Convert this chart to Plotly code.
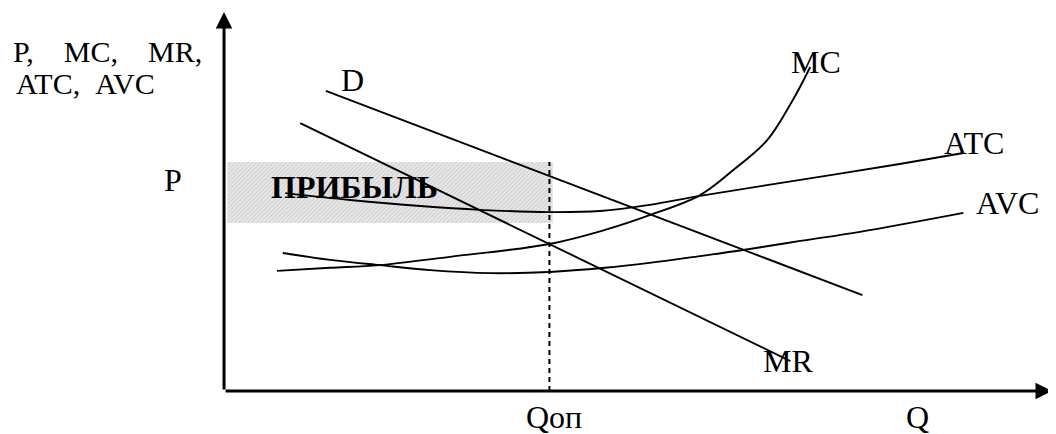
import plotly.graph_objects as go

# ---- data (Q in axis units 0..100, cost/price in axis units 0..100) ----
d_q = [12.3, 77.1]
d_p = [79.2, 25.3]

mr_q = [9.2, 68.4]
mr_v = [70.7, 7.9]

mc_q = [6.4, 12.8, 18.7, 27.3, 39.3, 46.0, 51.4, 57.5, 61.5, 65.6, 68.7, 70.8]
mc_v = [31.7, 32.5, 33.2, 35.4, 38.8, 42.5, 46.4, 51.7, 58.3, 66.2, 76.8, 85.5]

atc_q = [7.4, 15.2, 23.7, 30.9, 39.3, 45.4, 51.4, 57.5, 69.6, 81.6, 89.3]
atc_v = [52.2, 50.4, 48.8, 47.8, 47.2, 47.5, 49.1, 51.5, 55.7, 59.9, 62.8]

avc_q = [7.1, 12.8, 18.8, 24.9, 32.1, 39.3, 46.0, 51.4, 57.5, 62.7, 69.6, 76.8, 89.3]
avc_v = [36.4, 34.6, 33.2, 31.9, 31.1, 31.4, 32.5, 33.8, 35.6, 37.2, 39.6, 42.0, 47.0]

q_opt = 39.3
p_level = 60.4
profit_floor = 44.3
profit_left = 0.4
profit_right = 39.7

axis_q_max = 100
axis_v_max = 100

FONT = "Liberation Serif"

fig = go.Figure()

# profit rectangle (hatched)
fig.add_trace(go.Scatter(
    x=[profit_left, profit_right, profit_right, profit_left, profit_left],
    y=[profit_floor, profit_floor, p_level, p_level, profit_floor],
    mode="lines", line=dict(width=0, color="rgba(0,0,0,0)"),
    fill="toself", fillcolor="#dcdcdc",
    fillpattern=dict(shape="/", size=3, solidity=0.35, fgcolor="#b4b4b4", bgcolor="#e8e8e8"),
    hoverinfo="skip", showlegend=False))

line_style = dict(color="black", width=1.9)
curve_style = dict(color="black", width=1.9, shape="spline", smoothing=1.0)

fig.add_trace(go.Scatter(x=d_q, y=d_p, mode="lines", line=line_style, showlegend=False))
fig.add_trace(go.Scatter(x=mr_q, y=mr_v, mode="lines", line=line_style, showlegend=False))
fig.add_trace(go.Scatter(x=mc_q, y=mc_v, mode="lines", line=curve_style, showlegend=False))
fig.add_trace(go.Scatter(x=atc_q, y=atc_v, mode="lines", line=curve_style, showlegend=False))
fig.add_trace(go.Scatter(x=avc_q, y=avc_v, mode="lines", line=curve_style, showlegend=False))

# dashed vertical at Q optimum
fig.add_trace(go.Scatter(x=[q_opt, q_opt], y=[0, p_level], mode="lines",
                         line=dict(color="black", width=2, dash="5px,4px"), showlegend=False))

annotations = []
# axes with arrowheads
annotations.append(dict(x=axis_q_max, y=0, ax=0, ay=0, xref="x", yref="y", axref="x", ayref="y",
                        showarrow=True, arrowhead=2, arrowwidth=3, arrowsize=1.1, arrowcolor="black", text=""))
annotations.append(dict(x=0, y=axis_v_max, ax=0, ay=0, xref="x", yref="y", axref="x", ayref="y",
                        showarrow=True, arrowhead=2, arrowwidth=3, arrowsize=1.1, arrowcolor="black", text=""))

def label(text, x, y, size=32, xanchor="center", bold=False):
    t = f"<b>{text}</b>" if bold else text
    annotations.append(dict(x=x, y=y, xref="x", yref="y", text=t, showarrow=False,
                            xanchor=xanchor, yanchor="middle",
                            font=dict(family=FONT, size=size, color="black")))

NB = "&nbsp;"
label(f"P,{NB*4}MC,{NB*4}MR,", -25.7, 89.5, size=30, xanchor="left")
label(f"ATC,{NB*2}AVC", -25.4, 81.2, size=30, xanchor="left")
label("P", -6.2, 55.8)
label("D", 15.5, 82.0)
label("MC", 71.5, 86.8)
label("ATC", 90.6, 65.5)
label("AVC", 94.6, 49.6)
label("MR", 68.1, 8.0)
label("Qоп", 39.8, -6.8)
label("Q", 83.7, -6.8)
label("ПРИБЫЛЬ", 15.7, 53.8, size=32, bold=True)

# page body has an 8px default margin: figure is 1048x426, ranges set accordingly
fig.update_layout(
    width=1048, height=426,
    margin=dict(l=0, r=0, t=0, b=0),
    paper_bgcolor="white", plot_bgcolor="white",
    xaxis=dict(range=[-26.09, 100.48], visible=False, fixedrange=True),
    yaxis=dict(range=[-11.35, 101.06], visible=False, fixedrange=True),
    annotations=annotations,
    showlegend=False,
)

fig.write_html("out.html")
